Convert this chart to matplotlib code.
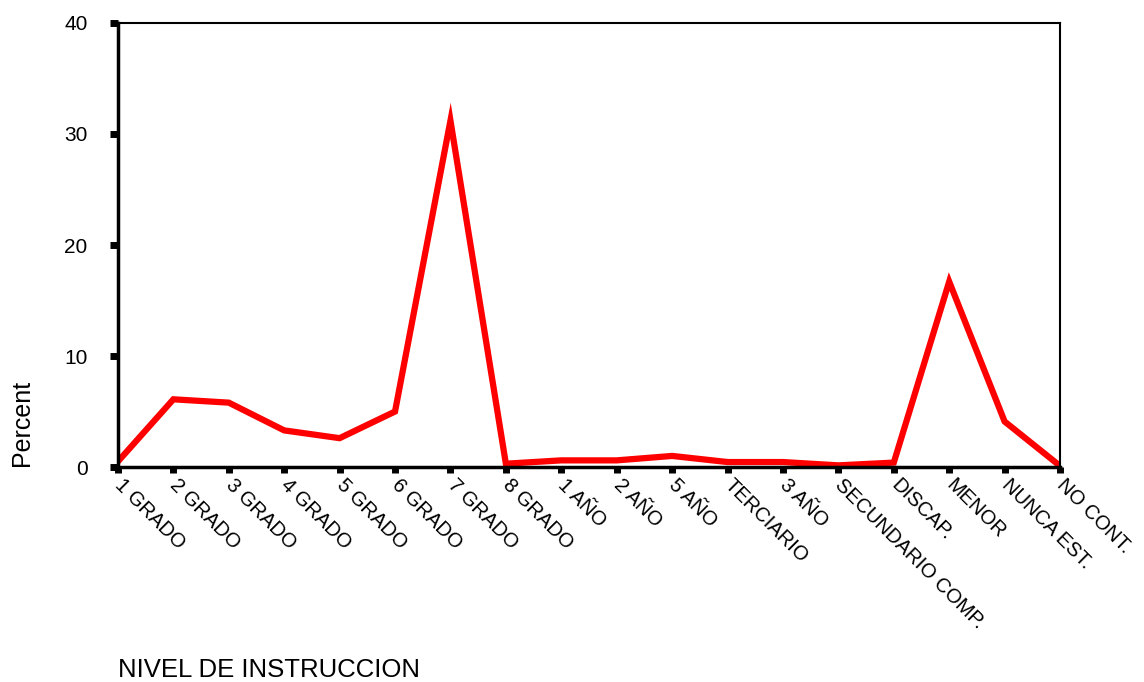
import matplotlib.pyplot as plt

plt.rcParams['font.family'] = ['Liberation Sans', 'DejaVu Sans']

categories = ["1 GRADO", "2 GRADO", "3 GRADO", "4 GRADO", "5 GRADO", "6 GRADO",
              "7 GRADO", "8 GRADO", "1 AÑO", "2 AÑO", "5 AÑO", "TERCIARIO",
              "3 AÑO", "SECUNDARIO COMP.", "DISCAP.", "MENOR", "NUNCA EST.", "NO CONT."]
percent = [0.5, 6.1, 5.8, 3.3, 2.6, 5.0, 31.2, 0.3, 0.6, 0.6, 1.0, 0.45,
           0.45, 0.15, 0.4, 16.7, 4.1, 0.1]
y_ticks = [0, 10, 20, 30, 40]

fig = plt.figure(figsize=(11.44, 6.82), dpi=100)
ax = fig.add_axes([0.1031, 0.3152, 0.8235, 0.6511])

x = list(range(len(categories)))
ax.plot(x, percent, color="#ff0000", linewidth=4.5, solid_joinstyle="miter")

ax.set_xlim(0, len(categories) - 1)
ax.set_ylim(0, 40)
ax.set_yticks(y_ticks)
ax.set_xticks(x)
ax.set_xticklabels(categories, rotation=-45, ha="left", va="center",
                   rotation_mode="anchor", fontsize=14.5)
ax.tick_params(axis="x", direction="out", length=4, width=5, pad=7)
ax.tick_params(axis="y", direction="out", length=6, width=5, pad=16, labelsize=15)

ax.spines["left"].set_linewidth(2.5)
ax.spines["bottom"].set_linewidth(2.5)
ax.spines["top"].set_linewidth(1.5)
ax.spines["right"].set_linewidth(1.5)

fig.text(0.019, 0.38, "Percent", rotation=90, ha="center", va="center", fontsize=18)
fig.text(0.1031, 0.018, "NIVEL DE INSTRUCCION", ha="left", va="center", fontsize=18.5)

fig.savefig("out.png", dpi=100)
